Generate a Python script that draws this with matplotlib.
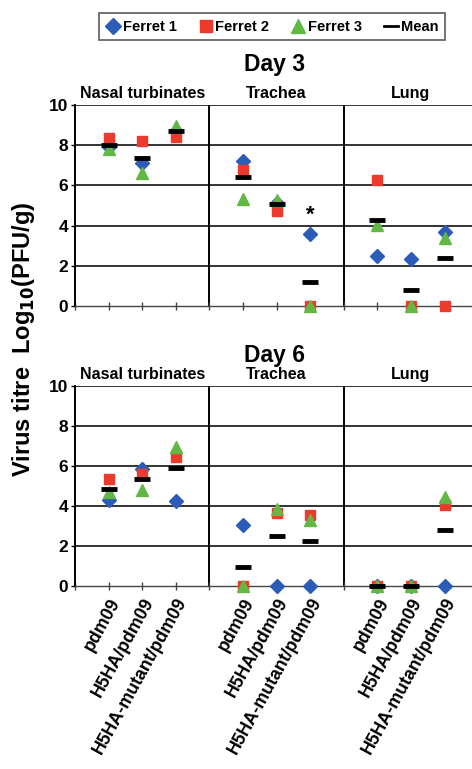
import matplotlib
matplotlib.use('Agg')
import matplotlib.pyplot as plt
from matplotlib.lines import Line2D
from matplotlib.transforms import blended_transform_factory

plt.rcParams['font.family'] = ['Liberation Sans', 'DejaVu Sans']
plt.rcParams['font.weight'] = 'bold'

tissues = ['Nasal turbinates', 'Trachea', 'Lung']
viruses = ['pdm09', 'H5HA/pdm09', 'H5HA-mutant/pdm09']

# values per tissue (nasal x3, trachea x3, lung x3), log10 PFU/g
day3_f1 = [7.9, 7.13, 8.7, 7.23, 5.1, 3.57, 2.49, 2.35, 3.67]
day3_f2 = [8.34, 8.22, 8.42, 6.77, 4.74, 0.0, 6.27, 0.0, 0.0]
day3_f3 = [7.8, 6.6, 8.95, 5.3, 5.27, 0.0, 4.03, 0.0, 3.37]
day3_mean = [8.0, 7.35, 8.7, 6.43, 5.06, 1.19, 4.28, 0.8, 2.37]

day6_f1 = [4.31, 5.86, 4.24, 3.03, 0.0, 0.0, 0.0, 0.0, 0.0]
day6_f2 = [5.36, 5.6, 6.43, 0.0, 3.65, 3.53, 0.0, 0.0, 4.06]
day6_f3 = [4.7, 4.81, 6.93, 0.0, 3.87, 3.28, 0.0, 0.0, 4.44]
day6_mean = [4.84, 5.36, 5.9, 0.96, 2.49, 2.25, 0.0, 0.0, 2.82]

blue = '#2c5cb8'
red = '#ec3a2c'
green = '#62b845'

xs = [4 * g + i + 1 for g in range(3) for i in range(3)]

fig = plt.figure(figsize=(4.72, 7.69), dpi=100)
ax1 = fig.add_axes([75 / 472, 1 - 306 / 769, 1 - 75 / 472, 201 / 769])
ax2 = fig.add_axes([75 / 472, 1 - 586 / 769, 1 - 75 / 472, 200 / 769])


def draw_panel(ax, f1, f2, f3, mean, labels):
    for y in [2, 4, 6, 8, 10]:
        ax.axhline(y, color='#333333', lw=1.4, zorder=0)
    for x in [4, 8]:
        ax.axvline(x, color='black', lw=1.4, zorder=0)
    ax.plot(xs, f1, 'D', color=blue, ms=7.2, ls='none', clip_on=False, zorder=3)
    ax.plot(xs, f2, 's', color=red, ms=7.5, ls='none', clip_on=False, zorder=4)
    ax.plot(xs, f3, '^', color=green, ms=8.5, ls='none', clip_on=False, zorder=5)
    ax.plot(xs, mean, '_', color='black', ms=11.5, mew=3.5, ls='none', clip_on=False, zorder=6)
    ax.set_xlim(0, 397 / 33.6)
    ax.set_ylim(0, 10)
    ax.set_yticks([0, 2, 4, 6, 8, 10])
    ax.set_xticks(range(0, 12))
    for s in ['top', 'right']:
        ax.spines[s].set_visible(False)
    ax.spines['left'].set_linewidth(1.4)
    ax.spines['bottom'].set_linewidth(1.0)
    ax.spines['bottom'].set_color('#444444')
    ax.tick_params(axis='y', direction='out', length=3, width=1, labelsize=12.5, pad=2)
    ax.tick_params(axis='x', direction='inout', length=6, width=1, color='#444444')
    if labels:
        ticklabels = []
        for x in range(12):
            ticklabels.append(viruses[x % 4 - 1] if x % 4 else '')
        ax.set_xticklabels(ticklabels, rotation=61, ha='right', va='top',
                           rotation_mode='anchor', fontsize=12.8)
    else:
        ax.set_xticklabels([])
    tr = blended_transform_factory(ax.transData, ax.transAxes)
    for g, name in enumerate(tissues):
        ax.text(4 * g + 2, 1.02, name, transform=tr, ha='center', va='bottom',
                fontsize=11.5, fontweight='bold')


draw_panel(ax1, day3_f1, day3_f2, day3_f3, day3_mean, False)
draw_panel(ax2, day6_f1, day6_f2, day6_f3, day6_mean, True)

ax1.text(7, 4.5, '*', ha='center', va='center', fontsize=16, fontweight='bold')

fig.text(275 / 472, 1 - 65 / 769, 'Day 3', ha='center', va='center', fontsize=16.5, fontweight='bold')
fig.text(275 / 472, 1 - 355 / 769, 'Day 6', ha='center', va='center', fontsize=16.5, fontweight='bold')
fig.text(24 / 472, 1 - 339 / 769, 'Virus titre  Log$_{\\mathbf{10}}$(PFU/g)', rotation=90,
         ha='center', va='center', fontsize=17, fontweight='bold')

handles = [
    Line2D([], [], marker='D', color=blue, ls='none', ms=8),
    Line2D([], [], marker='s', color=red, ls='none', ms=9),
    Line2D([], [], marker='^', color=green, ls='none', ms=10),
    Line2D([], [], color='black', lw=2),
]
leg = fig.legend(handles, ['Ferret 1', 'Ferret 2', 'Ferret 3', 'Mean'], ncol=4,
                 loc='upper center', bbox_to_anchor=(272 / 472, 1 - 6 / 769),
                 frameon=True, fancybox=False, edgecolor='#333333',
                 prop={'weight': 'bold', 'size': 10.5}, handlelength=1.0,
                 handletextpad=0.15, columnspacing=1.5, borderpad=0.45)
leg.get_frame().set_linewidth(1.2)

fig.savefig('out.png', dpi=100)
